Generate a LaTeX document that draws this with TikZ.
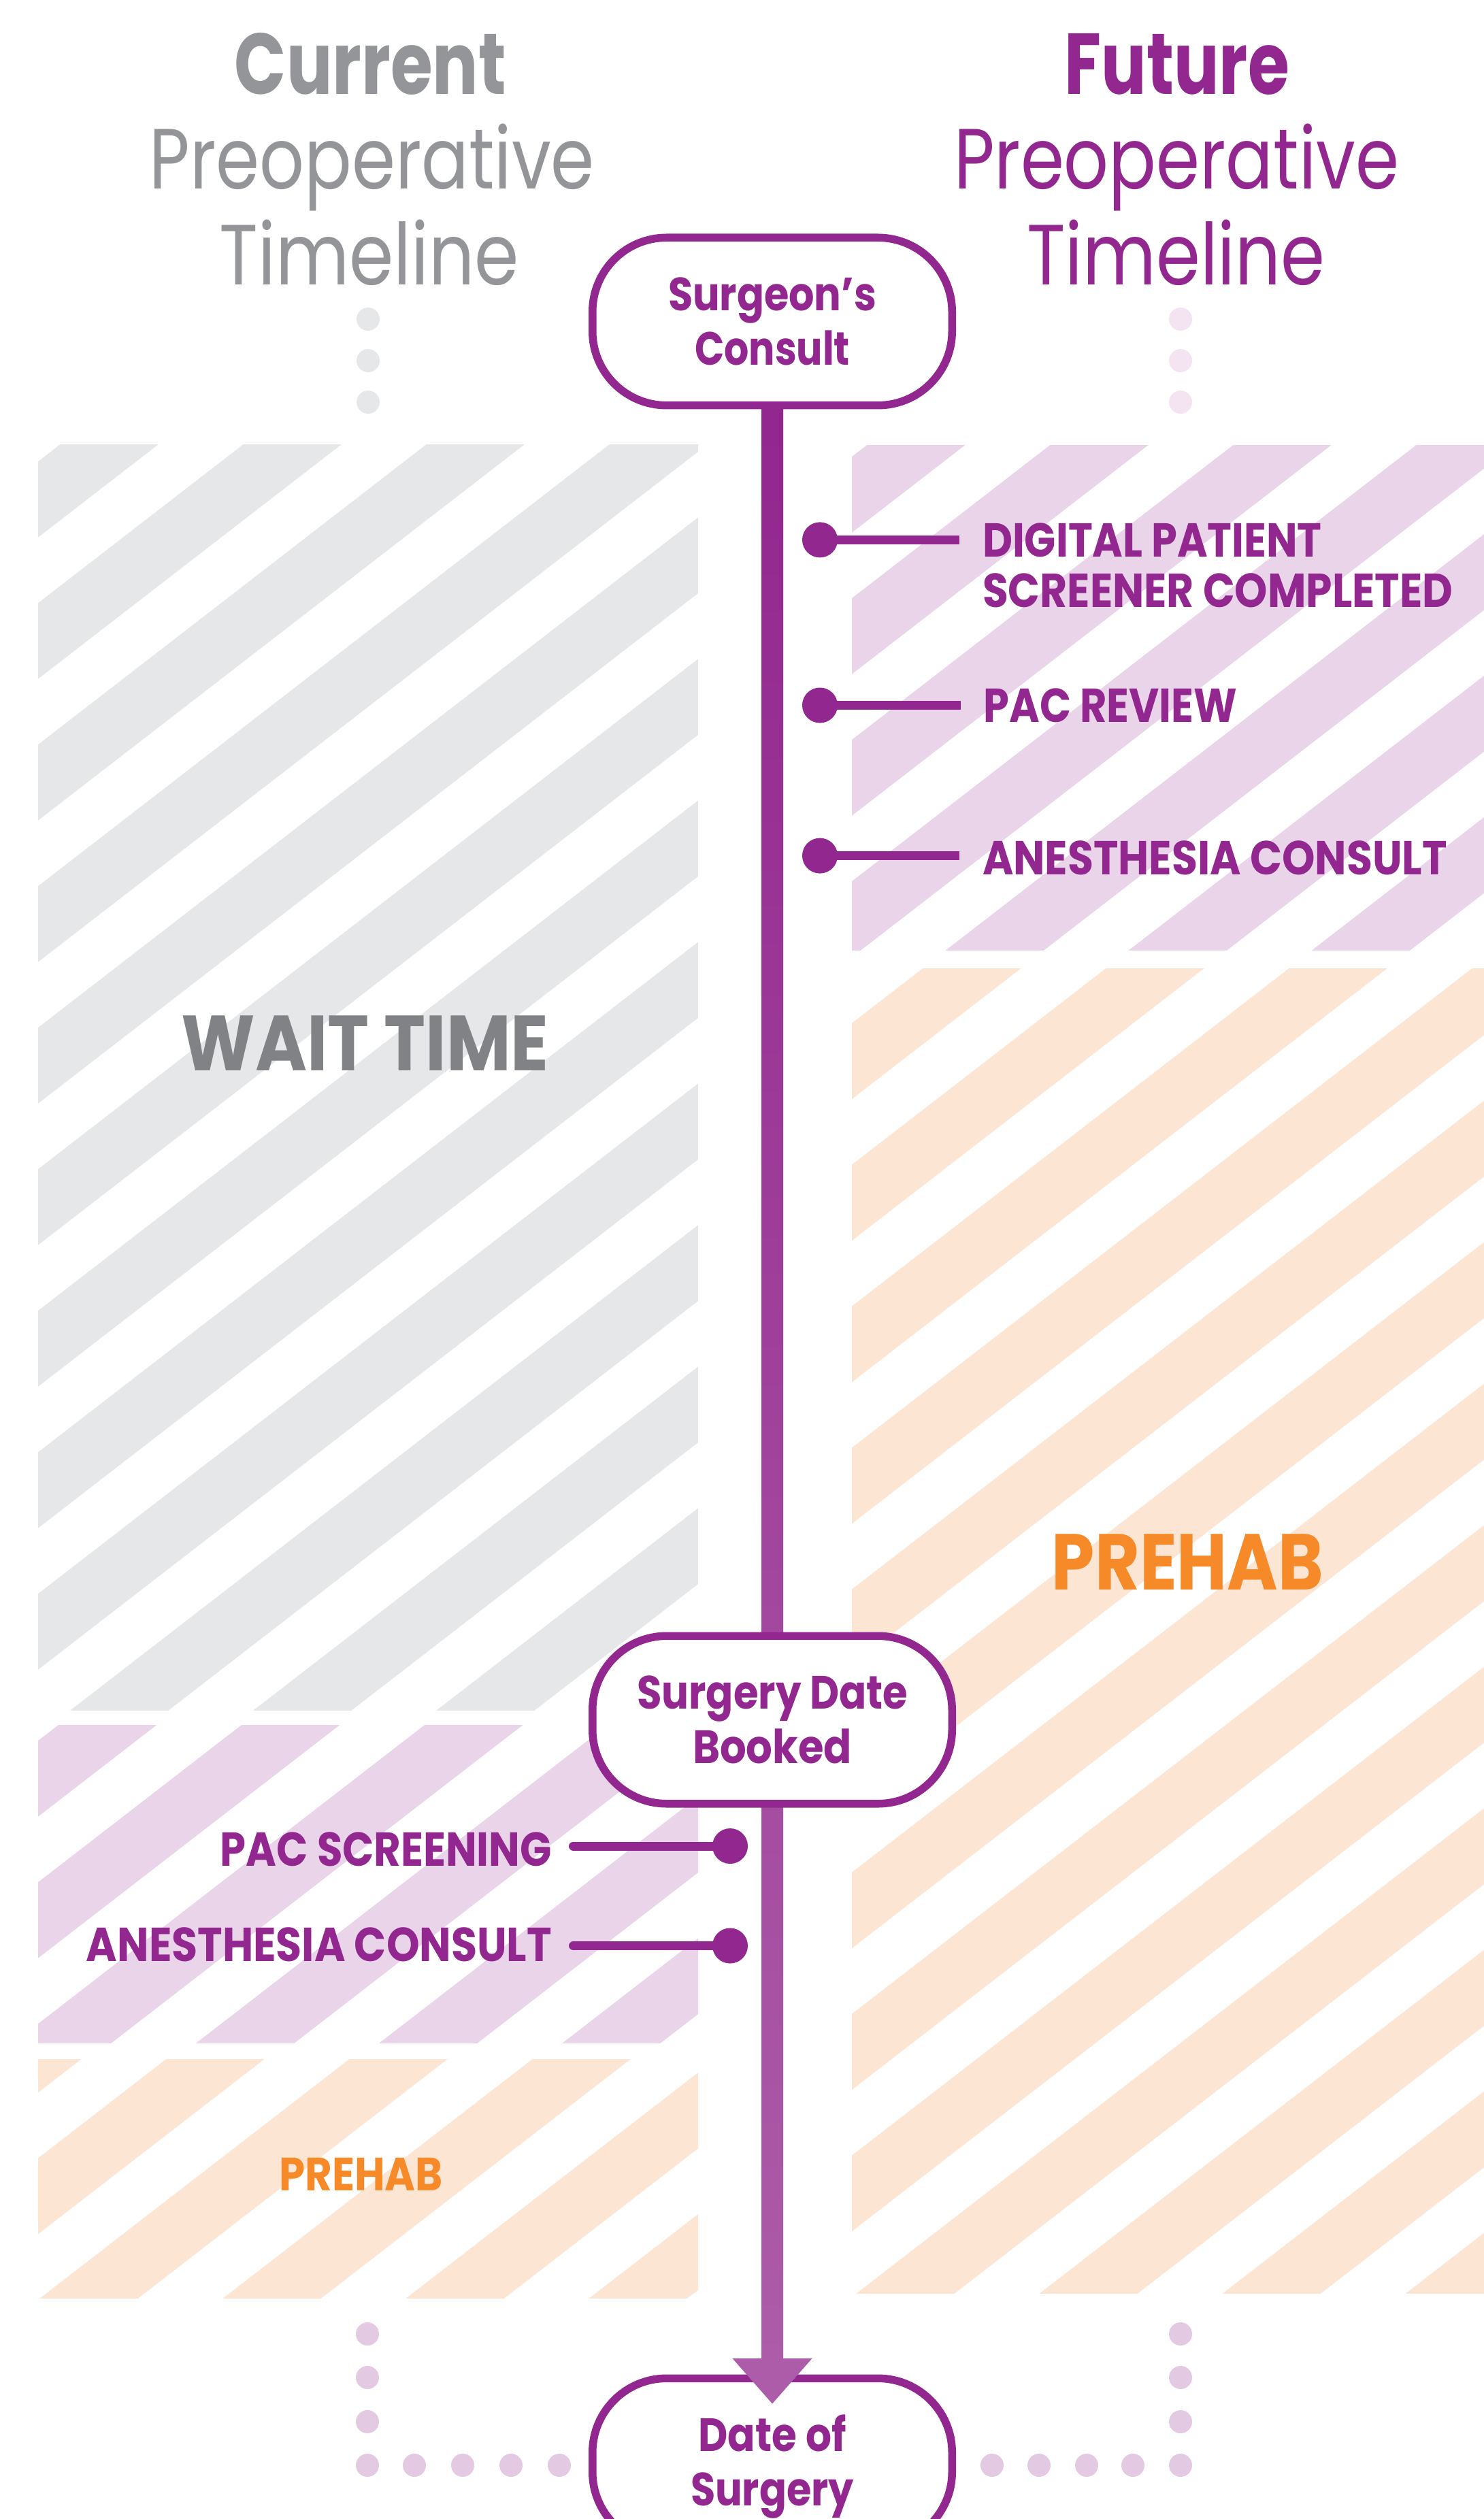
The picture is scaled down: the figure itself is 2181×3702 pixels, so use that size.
\documentclass[tikz,border=0pt]{standalone}
\usepackage{fontspec}
\usepackage{graphicx}
\usetikzlibrary{calc}

\newfontfamily\popL{Poppins}
\newfontfamily\popB{Poppins Bold}

\definecolor{plum}{HTML}{92278F}
\definecolor{plumlight}{HTML}{AC5CA8}
\definecolor{titlegray}{HTML}{939598}
\definecolor{waitgray}{HTML}{808285}
\definecolor{prehaborange}{HTML}{F68A29}
\definecolor{stripegray}{HTML}{E6E7E8}
\definecolor{stripeplum}{HTML}{E9D4E9}
\definecolor{stripeorange}{HTML}{FCE6D3}
\definecolor{dotgray}{HTML}{E6E7E8}
\definecolor{dotpale}{HTML}{F4E4F2}
\definecolor{dotlilac}{HTML}{E3CAE2}

% text squeezed to a given width, natural height kept
\newcommand\fitw[2]{\resizebox{#1}{\height}{#2}}
% one line of a stacked label: fixed cap height, no depth
\newcommand\capline[3]{\raisebox{0pt}[#1][0pt]{\resizebox{#2}{\height}{#3}}}

% hatched panel: x0,y0,x1,y1,colour,phase (bands of 111.5 every 208 along y+0.773x)
\newcommand\stripebox[6]{%
  \begin{scope}
    \clip (#1,#2) rectangle (#3,#4);
    \foreach \k in {0,...,26}{%
      \pgfmathsetmacro\bandlo{#6+208*\k}%
      \pgfmathsetmacro\bandhi{\bandlo+111.5}%
      \fill[#5] (#1,{\bandlo-0.773*#1}) -- (#3,{\bandlo-0.773*#3})
        -- (#3,{\bandhi-0.773*#3}) -- (#1,{\bandhi-0.773*#1}) -- cycle;
    }
  \end{scope}}

\pgfdeclarelayer{panels}
\pgfdeclarelayer{spine}
\pgfsetlayers{panels,spine,main}

\begin{document}
\begin{tikzpicture}[x=0.2pt, y=-0.2pt,
  stage/.style={draw=plum, line width=2.3pt, fill=white, rounded corners=21.8pt,
    minimum width=105.7pt, minimum height=49.3pt, inner sep=0pt, align=center,
    text=plum, font=\popB\fontsize{13.7}{16.1}\selectfont},
  heading/.style={inner sep=0pt, outer sep=0pt, anchor=base},
  lbl/.style={inner sep=0pt, outer sep=0pt, text=plum,
    font=\popB\fontsize{14}{14.8}\selectfont},
  pin/.style={circle, fill=plum, minimum size=10.4pt, inner sep=0pt, outer sep=0pt},
  bar/.style={draw=plum, line width=2.6pt},
]
\useasboundingbox (0,0) rectangle (2181,3702);

% ---------- headings ----------
\node[heading, text=titlegray, font=\popB\fontsize{25.4}{25.4}\selectfont]
  (curA) at (544.5,139) {\fitw{79.8pt}{Current}};
\node[heading, text=titlegray, font=\popL\fontsize{25.1}{25.1}\selectfont]
  (curB) at (546.7,277.7) {\fitw{130.8pt}{Preoperative}};
\node[heading, text=titlegray, font=\popL\fontsize{25.1}{25.1}\selectfont]
  (curC) at (542.5,418.3) {\fitw{88pt}{Timeline}};
\node[heading, text=plum, font=\popB\fontsize{25.4}{25.4}\selectfont]
  (futA) at (1729.8,139) {\fitw{66pt}{Future}};
\node[heading, text=plum, font=\popL\fontsize{25.1}{25.1}\selectfont]
  (futB) at (1729,277.7) {\fitw{130.8pt}{Preoperative}};
\node[heading, text=plum, font=\popL\fontsize{25.1}{25.1}\selectfont]
  (futC) at (1728.2,418.3) {\fitw{87.6pt}{Timeline}};

% ---------- milestones on the spine ----------
\node[stage] (sc) at (1135,472.5)
  {\capline{9.6pt}{61.2pt}{Surgeon’s}\\\capline{9.6pt}{45.6pt}{Consult}};
\node[stage] (sb) at (1135,2527.5)
  {\capline{9.6pt}{79.6pt}{Surgery Date}\\\capline{9.6pt}{46.8pt}{Booked}};
\node[stage] (ds) at (1135,3618.5)
  {\capline{9.6pt}{43.4pt}{Date of}\\\capline{9.6pt}{48pt}{Surgery}};

% arrow head landing on the last milestone
\fill[plumlight] ($(ds.north)+(-58.5,-23.5)$) -- ($(ds.north)+(58.5,-23.5)$)
  -- ($(ds.north)+(0,43)$) -- cycle;

% ---------- future-timeline steps ----------
\node[lbl, align=left, anchor=north west] (r1) at (1444,769.3)
  {\capline{9.8pt}{99.7pt}{DIGITAL PATIENT}\\\capline{9.8pt}{138.2pt}{SCREENER COMPLETED}};
\node[lbl, anchor=base west] (r2) at (1445.7,1061.4) {\fitw{74.5pt}{PAC REVIEW}};
\node[lbl, anchor=base west] (r3) at (1444,1285) {\fitw{136.5pt}{ANESTHESIA CONSULT}};
\node[pin] (rd1) at (1205,793.4) {};
\node[pin] (rd2) at (1205,1036.5) {};
\node[pin] (rd3) at (1205,1257.6) {};
\draw[bar, shorten >=6.8pt] (rd1.center) -- (rd1.center -| r1.west);
\draw[bar, shorten >=6.8pt] (rd2.center) -- (rd2.center -| r2.west);
\draw[bar, shorten >=6.8pt] (rd3.center) -- (rd3.center -| r3.west);

% ---------- current-timeline steps ----------
\node[lbl, anchor=base east] (l1) at (811,2742.7) {\fitw{97.4pt}{PAC SCREENING}};
\node[lbl, anchor=base east] (l2) at (811,2882.3) {\fitw{136.8pt}{ANESTHESIA CONSULT}};
\node[pin] (ld1) at (1073,2713) {};
\node[pin] (ld2) at (1073,2859.5) {};
\draw[bar, line cap=round, shorten >=6.3pt] (ld1.center) -- (ld1.center -| l1.east);
\draw[bar, line cap=round, shorten >=6.3pt] (ld2.center) -- (ld2.center -| l2.east);

% ---------- panel captions ----------
\node[heading, text=waitgray, font=\popB\fontsize{23}{23}\selectfont]
  (wait) at (536.7,1573.6) {\fitw{108pt}{WAIT TIME}};
\node[heading, text=prehaborange, font=\popB\fontsize{23.3}{23.3}\selectfont]
  (prehabR) at (1745.4,2336) {\fitw{79.8pt}{PREHAB}};
\node[heading, text=prehaborange, font=\popB\fontsize{13.7}{13.7}\selectfont]
  (prehabL) at (530.7,3219.7) {\fitw{48.1pt}{PREHAB}};

% ---------- background: hatched panels and dotted guides ----------
\begin{pgfonlayer}{panels}
  \fill[white] (0,0) rectangle (2181,3702);
  \stripebox{56}{654}{1026}{2513}{stripegray}{97.5}
  \stripebox{56}{2535}{1026}{3002}{stripeplum}{105.5}
  \stripebox{56}{3026}{1026}{3377}{stripeorange}{95}
  \stripebox{1252}{655}{2181}{1396}{stripeplum}{183}
  \stripebox{1252}{1423}{2181}{3370}{stripeorange}{183.5}
  \foreach \y in {469,530,591}{
    \fill[dotgray] (541,\y) circle[radius=3.4pt];
    \fill[dotpale] (1735,\y) circle[radius=3.4pt];
  }
  \foreach \y in {3430,3494,3559,3623}{
    \fill[dotlilac] (540,\y) circle[radius=3.4pt];
    \fill[dotlilac] (1735,\y) circle[radius=3.4pt];
  }
  \foreach \x in {609,680,751,822,1458,1527,1597,1665}{
    \fill[dotlilac] (\x,3623) circle[radius=3.4pt];
  }
\end{pgfonlayer}

% ---------- the spine from consult to surgery ----------
\begin{pgfonlayer}{spine}
  \shade[top color=plum, bottom color=plumlight]
    ($(sc.south)+(-16,0)$) rectangle ($(ds.north)+(16,-20)$);
\end{pgfonlayer}
\end{tikzpicture}
\end{document}
